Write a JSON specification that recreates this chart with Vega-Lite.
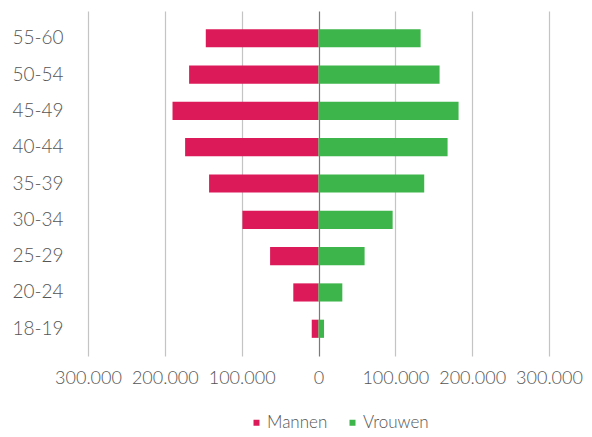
{
  "$schema": "https://vega.github.io/schema/vega-lite/v6.json",
  "width": 461,
  "height": 345,
  "autosize": {"type": "none"},
  "padding": {"left": 88, "top": 11, "right": 43, "bottom": 81},
  "background": "white",
  "config": {
    "view": {"stroke": null},
    "font": "Lato",
    "axis": {"labelFont": "Lato", "labelFontWeight": 300, "labelColor": "#555555", "labelFontSize": 19, "domain": false, "ticks": false, "title": null},
    "legend": {"labelFont": "Lato", "labelFontWeight": 300, "labelColor": "#555555", "labelFontSize": 17}
  },
  "data": {
    "values": [
      {"leeftijd": "55-60", "geslacht": "Mannen", "aantal": -146700},
      {"leeftijd": "50-54", "geslacht": "Mannen", "aantal": -168400},
      {"leeftijd": "45-49", "geslacht": "Mannen", "aantal": -190000},
      {"leeftijd": "40-44", "geslacht": "Mannen", "aantal": -173600},
      {"leeftijd": "35-39", "geslacht": "Mannen", "aantal": -142400},
      {"leeftijd": "30-34", "geslacht": "Mannen", "aantal": -99000},
      {"leeftijd": "25-29", "geslacht": "Mannen", "aantal": -63000},
      {"leeftijd": "20-24", "geslacht": "Mannen", "aantal": -32800},
      {"leeftijd": "18-19", "geslacht": "Mannen", "aantal": -8800},
      {"leeftijd": "55-60", "geslacht": "Vrouwen", "aantal": 132900},
      {"leeftijd": "50-54", "geslacht": "Vrouwen", "aantal": 157600},
      {"leeftijd": "45-49", "geslacht": "Vrouwen", "aantal": 182300},
      {"leeftijd": "40-44", "geslacht": "Vrouwen", "aantal": 168000},
      {"leeftijd": "35-39", "geslacht": "Vrouwen", "aantal": 137600},
      {"leeftijd": "30-34", "geslacht": "Vrouwen", "aantal": 96500},
      {"leeftijd": "25-29", "geslacht": "Vrouwen", "aantal": 60000},
      {"leeftijd": "20-24", "geslacht": "Vrouwen", "aantal": 31000},
      {"leeftijd": "18-19", "geslacht": "Vrouwen", "aantal": 7200}
    ]
  },
  "mark": {"type": "bar"},
  "encoding": {
    "y": {
      "field": "leeftijd",
      "type": "nominal",
      "sort": ["55-60", "50-54", "45-49", "40-44", "35-39", "30-34", "25-29", "20-24", "18-19"],
      "scale": {"paddingInner": 0.5, "paddingOuter": 0.5},
      "axis": {"labelPadding": 25, "grid": false}
    },
    "x": {
      "field": "aantal",
      "type": "quantitative",
      "scale": {"domain": [-300000, 300000], "nice": false},
      "axis": {
        "values": [-300000, -200000, -100000, 0, 100000, 200000, 300000],
        "labelExpr": "replace(format(abs(datum.value), ','), ',', '.')",
        "labelPadding": 13,
        "labelFontSize": 18,
        "grid": true,
        "gridColor": {"condition": {"test": "datum.value === 0", "value": "#7a7a7a"}, "value": "#c4c4c4"},
        "gridWidth": 1.2,
        "labelFlush": false
      }
    },
    "color": {
      "field": "geslacht",
      "type": "nominal",
      "scale": {"domain": ["Mannen", "Vrouwen"], "range": ["#dc1a5a", "#3db54a"]},
      "legend": {
        "title": null,
        "orient": "none",
        "direction": "horizontal",
        "legendX": 160,
        "legendY": 403,
        "symbolType": "square",
        "symbolSize": 36,
        "symbolOpacity": 1,
        "labelOffset": 2,
        "columnPadding": 16
      }
    }
  }
}
